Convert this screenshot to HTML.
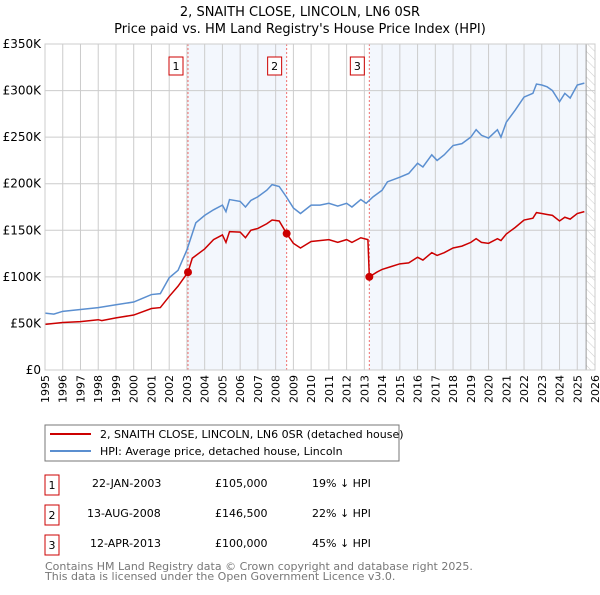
<!DOCTYPE html>
<html><head><meta charset="utf-8"><style>
body{margin:0;background:#fff;width:600px;height:590px;overflow:hidden}
svg{font-family:"DejaVu Sans","Liberation Sans",sans-serif}
</style></head><body>
<svg id="c" width="600" height="590" xmlns="http://www.w3.org/2000/svg">
<defs><pattern id="hatch" width="6" height="6" patternUnits="userSpaceOnUse" patternTransform="rotate(-45)"><line x1="0" y1="0" x2="0" y2="6" stroke="#ccc" stroke-width="1"/></pattern></defs>
<text x="300" y="16" text-anchor="middle" font-size="13">2, SNAITH CLOSE, LINCOLN, LN6 0SR</text>
<text x="300" y="33" text-anchor="middle" font-size="13">Price paid vs. HM Land Registry's House Price Index (HPI)</text>
<g id="plot"></g>
<g>
<rect x="45" y="425" width="354" height="36" fill="#fff" stroke="#777"/>
<line x1="50" y1="434" x2="91" y2="434" stroke="#cc0000" stroke-width="2"/>
<text x="100" y="438" font-size="11">2, SNAITH CLOSE, LINCOLN, LN6 0SR (detached house)</text>
<line x1="50" y1="451" x2="91" y2="451" stroke="#5b8fd0" stroke-width="2"/>
<text x="100" y="455" font-size="11">HPI: Average price, detached house, Lincoln</text>
</g>
<g font-size="11">
<rect x="45" y="475" width="14" height="20" fill="#fff" stroke="#cc0000"/><text x="52" y="489" text-anchor="middle">1</text>
<text x="92" y="487">22-JAN-2003</text><text x="215" y="487">£105,000</text><text x="312" y="487">19% ↓ HPI</text>
<rect x="45" y="505" width="14" height="20" fill="#fff" stroke="#cc0000"/><text x="52" y="519" text-anchor="middle">2</text>
<text x="87" y="517">13-AUG-2008</text><text x="215" y="517">£146,500</text><text x="312" y="517">22% ↓ HPI</text>
<rect x="45" y="535" width="14" height="20" fill="#fff" stroke="#cc0000"/><text x="52" y="549" text-anchor="middle">3</text>
<text x="90" y="547">12-APR-2013</text><text x="215" y="547">£100,000</text><text x="312" y="547">45% ↓ HPI</text>
</g>
<text x="45" y="570" font-size="11" fill="#777">Contains HM Land Registry data © Crown copyright and database right 2025.</text>
<text x="45" y="580" font-size="11" fill="#777">This data is licensed under the Open Government Licence v3.0.</text>
</svg>
<script>
const hpiYears=[1995,1995.5,1996,1997,1998,1999,2000,2000.5,2001,2001.5,2002,2002.5,2003,2003.5,2004,2004.5,2005,2005.2,2005.4,2006,2006.3,2006.6,2007,2007.5,2007.8,2008.2,2008.6,2009,2009.4,2010,2010.5,2011,2011.5,2012,2012.3,2012.8,2013.1,2013.5,2014,2014.3,2015,2015.5,2016,2016.3,2016.8,2017.1,2017.5,2018,2018.5,2019,2019.3,2019.6,2020,2020.5,2020.7,2021,2021.5,2022,2022.5,2022.7,2023,2023.3,2023.6,2024,2024.3,2024.6,2025,2025.4];
const hpiValues=[61,60,63,65,67,70,73,77,81,82,99,107,129,158,166,172,177,170,183,181,175,182,186,193,199,197,186,174,168,177,177,179,176,179,175,183,179,186,193,202,207,211,222,218,231,225,231,241,243,250,258,252,249,258,250,266,279,293,297,307,306,304,300,288,297,292,306,308];
const priceYears=[1995,1996,1997,1998,1998.2,1999,2000,2001,2001.5,2002,2002.5,2003.06,2003.3,2004,2004.5,2005,2005.2,2005.4,2006,2006.3,2006.6,2007,2007.5,2007.8,2008.2,2008.62,2009,2009.4,2010,2011,2011.5,2012,2012.3,2012.8,2013.2,2013.28,2013.7,2014,2014.5,2015,2015.5,2016,2016.3,2016.8,2017.1,2017.5,2018,2018.5,2019,2019.3,2019.6,2020,2020.5,2020.7,2021,2021.5,2022,2022.5,2022.7,2023,2023.3,2023.6,2024,2024.3,2024.6,2025,2025.4];
const priceValues=[49,51,52,54,53,56,59,66,67,79,90,105,120,130,140,145,137,148.5,148,142,150,152,157,161,160,146.5,136,131,138,140,137,140,137,142,140,100,105,108,111,114,115,121,118,126,123,126,131,133,137,141,137,136,141,139,146,153,161,163,169,168,167,166,160,164,162,168,170];
const saleYears=[2003.06,2008.62,2013.28];
const saleValues=[105,146.5,100];
const saleLabels=["1","2","3"];
const yTicks=[0,50,100,150,200,250,300,350];
const yTickLabels=["£0","£50K","£100K","£150K","£200K","£250K","£300K","£350K"];
const xTicks=[1995,1996,1997,1998,1999,2000,2001,2002,2003,2004,2005,2006,2007,2008,2009,2010,2011,2012,2013,2014,2015,2016,2017,2018,2019,2020,2021,2022,2023,2024,2025,2026];
const dataEnd=2025.5;
const X0=45,X1=595,Y0=370,Y1=44;
const xs=y=>X0+(y-1995)/(2026-1995)*(X1-X0);
const ys=v=>Y0-v/350*(Y0-Y1);
const NS="http://www.w3.org/2000/svg";
const g=document.getElementById('plot');
function mk(t,a,p){const e=document.createElementNS(NS,t);for(const k in a)e.setAttribute(k,a[k]);(p||g).appendChild(e);return e;}
let e;
e=mk('rect',{x:xs(saleYears[0]),y:Y1,width:xs(saleYears[1])-xs(saleYears[0]),height:Y0-Y1,fill:'#eef3fc',opacity:0.7});


e=mk('rect',{x:xs(saleYears[2]),y:Y1,width:xs(dataEnd)-xs(saleYears[2]),height:Y0-Y1,fill:'#eef3fc',opacity:0.7});


e=mk('rect',{x:xs(dataEnd),y:Y1,width:X1-xs(dataEnd),height:Y0-Y1,fill:'url(#hatch)'});


xTicks.forEach((t,i)=>{
 e=mk('line',{x1:xs(t),x2:xs(t),y1:Y1,y2:Y0,stroke:'#ccc','stroke-width':1});
 
 
 e=mk('text',{transform:`translate(${xs(t)+4},${Y0+5}) rotate(-90)`,'text-anchor':'end','font-size':11});
 e.textContent=t;
 
 
});
yTicks.forEach((t,i)=>{
 e=mk('line',{x1:X0,x2:X1,y1:ys(t),y2:ys(t),stroke:'#ccc','stroke-width':1});
 
 
 e=mk('text',{x:X0-4,y:ys(t)+4,'text-anchor':'end','font-size':12});
 e.textContent=yTickLabels[i];
 
 
});
e=mk('line',{x1:xs(dataEnd),x2:xs(dataEnd),y1:Y1,y2:Y0,stroke:'#999'});


saleYears.forEach((s,i)=>{
 e=mk('line',{x1:xs(s),x2:xs(s),y1:Y1,y2:Y0,stroke:'#f07070','stroke-dasharray':'2,2'});
 
 
 e=mk('rect',{x:xs(s)-19,y:57,width:14,height:18,fill:'#fff',stroke:'#cc0000'});
 
 
 e=mk('text',{x:xs(s)-12,y:70,'text-anchor':'middle','font-size':11});
 e.textContent=saleLabels[i];
 
 
});
e=mk('polyline',{points:hpiYears.map((y,i)=>xs(y)+','+ys(hpiValues[i])).join(' '),fill:'none',stroke:'#5b8fd0','stroke-width':1.5});


e=mk('polyline',{points:priceYears.map((y,i)=>xs(y)+','+ys(priceValues[i])).join(' '),fill:'none',stroke:'#cc0000','stroke-width':1.5});


saleYears.forEach((s,i)=>{
 e=mk('circle',{cx:xs(s),cy:ys(saleValues[i]),r:4,fill:'#cc0000'});
 
 
});
e=mk('rect',{x:X0,y:Y1,width:X1-X0,height:Y0-Y1,fill:'none',stroke:'#ccc'});


</script>
</body></html>
